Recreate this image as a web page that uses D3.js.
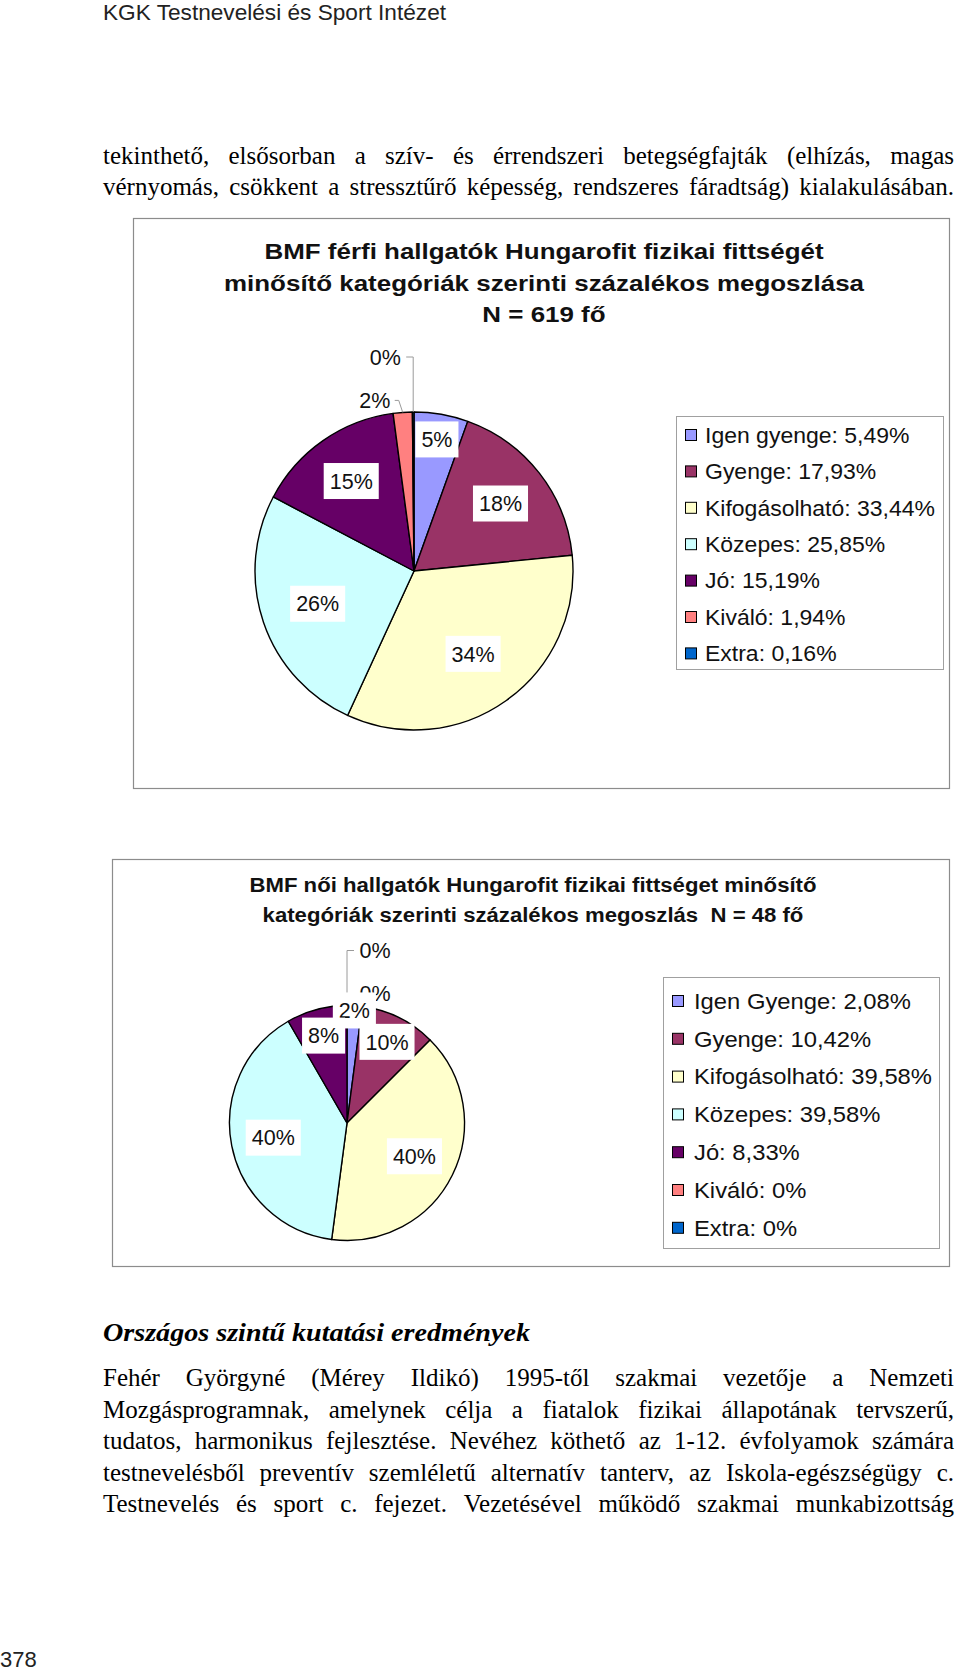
<!DOCTYPE html>
<html><head><meta charset="utf-8">
<script src="https://cdn.jsdelivr.net/npm/d3@7"></script>
<style>body{margin:0;background:#fff}text{white-space:pre}</style>
</head><body><svg id="page" width="960" height="1673"></svg>
<script>
// ---------- DATA ----------
const headerText = "KGK Testnevelési és Sport Intézet";
const introLines = [
  "tekinthető, elsősorban a szív- és érrendszeri betegségfajták (elhízás, magas",
  "vérnyomás, csökkent a stressztűrő képesség, rendszeres fáradtság) kialakulásában."
];
const sectionHeading = "Országos szintű kutatási eredmények";
const paragraphLines = [
  "Fehér Györgyné (Mérey Ildikó) 1995-től szakmai vezetője a Nemzeti",
  "Mozgásprogramnak, amelynek célja a fiatalok fizikai állapotának tervszerű,",
  "tudatos, harmonikus fejlesztése. Nevéhez köthető az 1-12. évfolyamok számára",
  "testnevelésből preventív szemléletű alternatív tanterv, az Iskola-egészségügy c.",
  "Testnevelés és sport c. fejezet. Vezetésével működő szakmai munkabizottság"
];
const pageNumber = "378";

const title1 = ["BMF férfi hallgatók Hungarofit fizikai fittségét",
                "minősítő kategóriák szerinti százalékos megoszlása",
                "N = 619 fő"];
const categories1 = ["Igen gyenge","Gyenge","Kifogásolható","Közepes","Jó","Kiváló","Extra"];
const values1 = [5.49, 17.93, 33.44, 25.85, 15.19, 1.94, 0.16];
const legendValues1 = ["5,49%","17,93%","33,44%","25,85%","15,19%","1,94%","0,16%"];
const pieLabels1 = ["5%","18%","34%","26%","15%","2%","0%"];

const title2 = ["BMF női hallgatók Hungarofit fizikai fittséget minősítő",
                "kategóriák szerinti százalékos megoszlás  N = 48 fő"];
const categories2 = ["Igen Gyenge","Gyenge","Kifogásolható","Közepes","Jó","Kiváló","Extra"];
const values2 = [2.08, 10.42, 39.58, 39.58, 8.33, 0, 0];
const legendValues2 = ["2,08%","10,42%","39,58%","39,58%","8,33%","0%","0%"];
const pieLabels2 = ["2%","10%","40%","40%","8%","0%","0%"];

const sliceColors = ["#9999FF","#993366","#FFFFCC","#CCFFFF","#660066","#FF8080","#0066CC"];

// ---------- DRAW ----------
const svg = d3.select("#page");
const SANS = "'Liberation Sans', Arial, sans-serif";
const SERIF = "'Liberation Serif', 'Times New Roman', serif";

function fitText(sel, width) {
  sel.attr("textLength", width).attr("lengthAdjust", "spacingAndGlyphs");
}

// header
fitText(svg.append("text").attr("x", 103).attr("y", 20).attr("font-family", SANS)
  .attr("font-size", 22.5).attr("fill", "#222").text(headerText), 343);

function justifyLine(text, x0, x1, y, size, hScale) {
  const words = text.split(" ");
  const ts = words.map(w => svg.append("text").attr("y", y).attr("font-family", SERIF)
    .attr("font-size", size).attr("fill", "#000").text(w));
  const widths = ts.map(t => t.node().getComputedTextLength() * hScale);
  const W = d3.sum(widths), n = words.length, avail = x1 - x0;
  const minGap = size * 0.22;
  let scale = 1, gap;
  if (W + minGap * (n - 1) > avail) { scale = (avail - minGap * (n - 1)) / W; gap = minGap; }
  else gap = (avail - W) / (n - 1);
  let x = x0;
  ts.forEach((t, i) => {
    const w = widths[i] * scale;
    t.attr("x", x);
    fitText(t, w);
    x += w + gap;
  });
}
introLines.forEach((l, i) => justifyLine(l, 103, 954, 164 + i * 31, 25, 1.0));

fitText(svg.append("text").attr("x", 103).attr("y", 1341).attr("font-family", SERIF)
  .attr("font-size", 26).attr("font-weight", "bold").attr("font-style", "italic")
  .text(sectionHeading), 427);
paragraphLines.forEach((l, i) => justifyLine(l, 103, 954, 1386 + i * 31.5, 25, 1.0));

svg.append("text").attr("x", 0).attr("y", 1667).attr("font-family", SANS)
  .attr("font-size", 22).attr("fill", "#222").text(pageNumber);

function labelFactor(f) {
  if (f >= 0.25) return 0.64;
  if (f >= 0.12) return 0.69;
  if (f >= 0.07) return 0.77;
  if (f >= 0.04) return 0.84;
  return 0.96;
}

function drawChart(cfg) {
  // frame
  svg.append("rect").attr("x", cfg.box[0] + 0.5).attr("y", cfg.box[1] + 0.5)
    .attr("width", cfg.box[2] - cfg.box[0]).attr("height", cfg.box[3] - cfg.box[1])
    .attr("fill", "#fff").attr("stroke", "#8c8c8c").attr("stroke-width", 1.2);

  // title
  const tt = cfg.title.map((line, i) => svg.append("text").attr("x", cfg.titleX)
    .attr("y", cfg.titleY + i * cfg.titleStep).attr("text-anchor", "middle")
    .attr("font-family", SANS).attr("font-weight", "bold").attr("font-size", cfg.titleSize)
    .attr("fill", "#111").text(line));
  const nat = tt.map(t => t.node().getComputedTextLength());
  const k = cfg.titleWidest / d3.max(nat);
  tt.forEach((t, i) => fitText(t, nat[i] * k));

  // pie
  const g = svg.append("g").attr("transform", `translate(${cfg.cx},${cfg.cy})`);
  const total = d3.sum(cfg.values);
  const arcs = d3.pie().sort(null).value(d => d.value)
    (cfg.values.map((v, i) => ({ value: v, i })));
  const arc = d3.arc().innerRadius(0).outerRadius(cfg.r);
  g.selectAll("path").data(arcs.filter(d => d.data.value > 0)).join("path")
    .attr("d", arc).attr("fill", d => sliceColors[d.data.i])
    .attr("stroke", "#000").attr("stroke-width", 1.4).attr("stroke-linejoin", "round");

  const r = cfg.r;
  // outside labels (tiny slices)
  let kOut = 0;
  arcs.forEach(d => {
    const f = d.data.value / total;
    if (f >= 0.02) return;
    const mid = (d.startAngle + d.endAngle) / 2;
    const ex = r * Math.sin(mid), ey = -r * Math.cos(mid);
    const s = mid >= 2 * Math.PI - 1e-6 ? 1 : -1;
    const lx = ex + s * 28, ly = ey - 12 - 43 * kOut;
    const pts = kOut === 0
      ? [[ex, ey], [ex + s * 4, ly], [lx - s * 20, ly]]
      : [[ex, ey], [ex, ly], [lx - s * 21, ly]];
    g.append("path").attr("d", d3.line()(pts)).attr("fill", "none")
      .attr("stroke", "#9a9a9a").attr("stroke-width", 1);
    g.append("text").attr("x", lx).attr("y", ly).attr("dy", "0.36em")
      .attr("text-anchor", "middle").attr("font-family", SANS).attr("font-size", 21.5)
      .attr("fill", "#111").text(cfg.labels[d.data.i]);
    kOut++;
  });
  // inside labels with white boxes
  arcs.forEach(d => {
    const f = d.data.value / total;
    if (f < 0.02) return;
    const mid = (d.startAngle + d.endAngle) / 2;
    const lr = r * labelFactor(f);
    const lx = lr * Math.sin(mid), ly = -lr * Math.cos(mid);
    const lg = g.append("g");
    const rect = lg.append("rect").attr("fill", "#fff");
    const t = lg.append("text").attr("x", lx).attr("y", ly).attr("dy", "0.36em")
      .attr("text-anchor", "middle").attr("font-family", SANS).attr("font-size", 21.5)
      .attr("fill", "#111").text(cfg.labels[d.data.i]);
    const bb = t.node().getBBox();
    rect.attr("x", bb.x - 6).attr("y", ly - 18).attr("width", bb.width + 12).attr("height", 36);
  });

  // legend
  const L = cfg.legend;
  svg.append("rect").attr("x", L.x + 0.5).attr("y", L.y + 0.5).attr("width", L.w).attr("height", L.h)
    .attr("fill", "#fff").attr("stroke", "#a0a0a0").attr("stroke-width", 1);
  const texts = cfg.categories.map((c, i) => {
    const cy = L.firstY + i * L.step;
    svg.append("rect").attr("x", L.x + 9.5).attr("y", cy - 5.5).attr("width", 11).attr("height", 11)
      .attr("fill", sliceColors[i]).attr("stroke", "#000").attr("stroke-width", 1);
    return svg.append("text").attr("x", L.x + L.textOff).attr("y", cy).attr("dy", "0.36em")
      .attr("font-family", SANS).attr("font-size", 21.5).attr("fill", "#111")
      .text(c + ": " + cfg.legendValues[i]);
  });
  const ln = texts.map(t => t.node().getComputedTextLength());
  const lk = L.widest / d3.max(ln);
  texts.forEach((t, i) => fitText(t, ln[i] * lk));
}

drawChart({
  box: [133, 218, 949, 788],
  title: title1, titleX: 544, titleY: 259, titleStep: 31.5, titleSize: 21.5, titleWidest: 640,
  cx: 414, cy: 571, r: 159,
  values: values1, labels: pieLabels1, categories: categories1, legendValues: legendValues1,
  legend: { x: 676, y: 416, w: 267, h: 253, firstY: 435, step: 36.4, textOff: 29, widest: 230 }
});
drawChart({
  box: [112, 859, 949, 1266],
  title: title2, titleX: 533, titleY: 892, titleStep: 30, titleSize: 19.5, titleWidest: 567,
  cx: 347, cy: 1123, r: 117.5,
  values: values2, labels: pieLabels2, categories: categories2, legendValues: legendValues2,
  legend: { x: 663, y: 977, w: 276, h: 271, firstY: 1001, step: 37.8, textOff: 31, widest: 238 }
});
</script>
</body></html>
